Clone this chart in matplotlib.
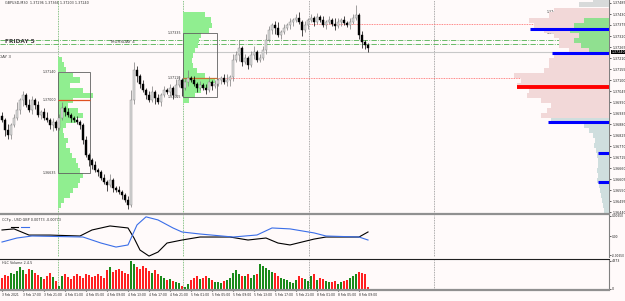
import numpy as np
import matplotlib
matplotlib.use("Agg")
import matplotlib.pyplot as plt
from matplotlib.patches import Rectangle
from matplotlib.lines import Line2D

# GBPUSD M30 candles (close prices), wicks in pips
closes = [
    1.3690, 1.3685, 1.36825, 1.36875, 1.3691, 1.3695,
    1.3700, 1.37025, 1.36975, 1.3695, 1.3700, 1.36975, 1.36925,
    1.3694, 1.3691, 1.3690, 1.36875, 1.3689, 1.3686, 1.3691,
    1.3696, 1.3694, 1.36925, 1.3691, 1.3690, 1.3689, 1.36875, 1.3680, 1.36725, 1.3670,
    1.36675, 1.3665, 1.3664, 1.3661, 1.3659, 1.36575, 1.3660, 1.3656, 1.3655, 1.3654, 1.36525, 1.3650, 1.36475,
    1.3700, 1.3715, 1.3712, 1.3708,
    1.3705, 1.37025, 1.3700, 1.3704, 1.3701, 1.3699, 1.37025, 1.3705, 1.3704, 1.3706,
    1.37025, 1.37075, 1.3710, 1.3706, 1.3709, 1.3711, 1.3710, 1.3708, 1.3706, 1.37075,
    1.3706, 1.3705, 1.3709, 1.3707, 1.3708, 1.3710, 1.3711, 1.3709, 1.3710, 1.37115,
    1.3720, 1.37225, 1.3726, 1.3719, 1.3721, 1.37175, 1.37225, 1.3724, 1.3720, 1.3721,
    1.3725, 1.3730, 1.3735, 1.37375, 1.3736, 1.37325, 1.3734, 1.3736, 1.37375, 1.3739,
    1.3740, 1.3741, 1.3739, 1.3735, 1.37375, 1.3740, 1.3741, 1.3739, 1.37415, 1.3740,
    1.37375, 1.3739, 1.3740, 1.3738, 1.3737, 1.3739, 1.3740, 1.37385, 1.37375, 1.3739,
    1.3741, 1.37425, 1.37325, 1.3729, 1.37275, 1.3726,
]
first_open = 1.3692
wick_up = [2, 1, 3, 1, 2, 4, 1, 2, 1, 3, 2, 1, 2,
           1, 2, 3, 1, 2, 1, 2,
           3, 1, 2, 1, 1, 2, 1, 1, 2, 1,
           1, 2, 1, 1, 2, 1, 3, 1, 1, 2, 1, 1, 2,
           5, 4, 2, 1,
           2, 1, 2, 3, 1, 2, 1, 2, 1, 2,
           1, 3, 2, 1, 2, 4, 1, 2, 1, 2,
           1, 2, 3, 1, 2, 1, 1, 2, 3, 1,
           3, 2, 4, 1, 2, 1, 2, 3, 1, 2,
           2, 3, 2, 1, 2, 3, 1, 2, 1, 2,
           1, 2, 3, 1, 2, 1, 2, 1, 2, 1,
           2, 1, 2, 1, 3, 2, 1, 2, 1, 2,
           2, 5, 1, 2, 1, 1]
wick_dn = [1, 3, 2, 2, 1, 1, 2, 3, 1, 1, 2, 2, 1,
           2, 1, 1, 2, 3, 1, 1,
           1, 2, 1, 2, 1, 1, 2, 2, 1, 3,
           2, 1, 2, 1, 1, 3, 1, 2, 1, 1, 2, 1, 2,
           1, 2, 3, 2,
           1, 2, 1, 1, 3, 1, 2, 1, 1, 2,
           2, 1, 1, 4, 1, 2, 1, 1, 2, 1,
           1, 2, 1, 2, 1, 1, 2, 1, 2, 3,
           2, 1, 3, 2, 1, 2, 1, 2, 1, 1,
           1, 2, 1, 2, 3, 1, 2, 1, 1, 2,
           2, 1, 1, 3, 1, 2, 1, 2, 1, 1,
           1, 2, 1, 1, 2, 1, 2, 1, 1, 2,
           1, 1, 2, 3, 2, 2]
volumes = [11, 14, 13, 16, 15, 18, 22, 19, 15, 20, 19, 16, 14, 12, 10, 13, 16, 12, 8, 3,
           13, 15, 12, 10, 13, 15, 13, 11, 15, 14, 12, 13, 15, 13, 11, 19, 22, 17, 19, 20, 18, 16, 15,
           28, 25, 22, 20, 23, 21, 18, 16, 19, 15, 13, 11, 9, 10,
           8, 7, 6, 3, 2, 5, 9, 11, 13, 10,
           11, 13, 11, 9, 7, 7, 6, 8, 9, 11, 16, 19, 15, 13,
           13, 15, 11, 14, 15, 25, 23, 21, 19, 17, 16, 13, 11, 10, 9, 7,
           6, 9, 13, 11, 10, 8, 13, 15, 9, 11, 10, 8, 7, 7,
           8, 5, 7, 8, 9, 11, 13, 15, 17, 16, 15, 2]

# CCFp currency strength
usd_idx = [0, 4, 9, 16, 26, 30, 36, 42, 44, 46, 49, 52, 55, 60, 66, 76, 82, 88, 92, 96, 104, 108, 119, 122]
usd_vals = [0.00195, 0.0023, 0.0003, 0.0003, 0.0, 0.00195, 0.00325, 0.0026, -0.00065, -0.00455, -0.0065,
            -0.0052, -0.00228, -0.0013, -0.00033, -0.00033, -0.0013, -0.00065, -0.00228, -0.0029,
            -0.001, -0.00033, -0.00033, 0.0013]
gbp_idx = [0, 5, 10, 27, 33, 38, 42, 45, 48, 52, 57, 60, 66, 77, 85, 90, 96, 104, 108, 119, 122]
gbp_vals = [-0.00195, -0.00065, 0.0, -0.00033, -0.00228, -0.00358, -0.0029, 0.00358, 0.0062, 0.0052,
            0.0026, 0.0013, 0.00065, -0.00033, 0.00033, 0.0026, 0.0023, 0.001, 0.0, -0.00033, -0.0013]

day_starts = [18.67, 60.33, 102.33, 144.0]
time_labels = ["3 Feb 2021", "3 Feb 17:00", "3 Feb 21:00", "4 Feb 01:00", "4 Feb 05:00", "4 Feb 09:00",
               "4 Feb 13:00", "4 Feb 17:00", "4 Feb 21:00", "5 Feb 01:00", "5 Feb 05:00", "5 Feb 09:00",
               "5 Feb 13:00", "5 Feb 17:00", "5 Feb 21:00", "8 Feb 01:00", "8 Feb 05:00", "8 Feb 09:00"]

# market profile of the whole chart, levels from 1.3750 downwards
profile_vol = [160, 300, 550, 600, 800, 750, 650, 550, 500, 500,
               400, 550, 600, 600, 650, 950, 880, 920, 800, 820,
               680, 580, 620, 680, 580, 250, 200, 160, 140, 150,
               130, 120, 110, 110, 120, 110, 120, 100, 90, 80,
               70, 60, 50]
profile_green = [250, 350, 390, 300, 350, 280, 200]
hvn_prices = [1.37355, 1.37235, 1.3689, 1.36735, 1.3659]
hvn_vols = [790, 570, 610, 110, 110]
poc_price, poc_vol = 1.37065, 920

# session profiles
sess1_vol = [12, 18, 24, 45, 66, 36, 75, 105, 45, 30, 60, 75, 54, 24, 15,
             18, 30, 24, 36, 42, 54, 60, 66, 75, 66, 60, 45, 36, 18, 9]
sess2_vol = [66, 84, 87, 78, 54, 48, 45, 36, 30, 27, 30, 42, 66, 96, 75, 54, 36, 18]
sess_hi = [1.3714, 1.37335, 1.3744]
sess_lo = [1.36635, 1.37015, 1.37335]
sess_end = [29.33, 71.67, 202.33]
sess_poc = [1.3700, 1.3711, 1.3738]

bg = "#fffafa"
fig = plt.figure(figsize=(6.25, 3.01), dpi=100, facecolor=bg)
W, H = 625, 301
xlo, xhi = -0.667, 202.33
ytop, ybot = 1.3750, 1.36435

ax = fig.add_axes([0, (H - 213) / H, 609 / W, 213 / H], facecolor=bg)
ax_c = fig.add_axes([0, (H - 257) / H, 609 / W, 42 / H], facecolor=bg)
ax_v = fig.add_axes([0, (H - 289) / H, 609 / W, 29 / H], facecolor=bg)

for a in (ax, ax_c, ax_v):
    a.set_xlim(xlo, xhi)
    for s in ("top", "left", "bottom"):
        a.spines[s].set_visible(False)
    a.spines["right"].set_color("#808080")
    a.spines["right"].set_linewidth(0.8)
    a.yaxis.tick_right()
    a.tick_params(axis="y", labelsize=2.3, length=1.5, pad=0.8, colors="#202020", width=0.5)
    a.tick_params(axis="x", length=0, labelbottom=False)
    for k, d in enumerate(day_starts):
        col = "#60b060" if k < 2 else "#909090"
        a.axvline(d, color=col, lw=0.6, ls=(0, (1, 1)), zorder=1)

ax.set_ylim(ybot, ytop)
ticks = np.arange(1.37485, ybot, -0.00055)
ax.set_yticks(ticks)
ax.set_yticklabels(["%.5f" % t for t in ticks])

# profile on the right edge
ax_p = ax.twiny()
ax_p.set_xlim(6090, 0)
ax_p.axis("off")
levels = np.arange(ytop, ytop - 0.00025 * len(profile_vol) + 1e-9, -0.00025)[:len(profile_vol)]
pcols = ["#d8dada" if p > 1.3745 else ("#f2d8d8" if p > 1.3690 else "#cfdede") for p in levels]
ax_p.barh(levels, profile_vol, height=0.00025, left=0, color=pcols, zorder=1)
green_lv = levels[4:4 + len(profile_green)]
ax_p.barh(green_lv, profile_green, height=0.00025, color="#90e090", zorder=2)
ax_p.hlines(hvn_prices, 0, hvn_vols, color="#0000ff", lw=2.2, zorder=3)
ax_p.hlines(poc_price, 0, poc_vol, color="#ff0000", lw=2.8, zorder=3)

# key horizontal levels
ax.axhline(1.37302, color="#50b050", lw=0.6, ls="-.", zorder=1)
ax.axhline(1.37282, color="#50b050", lw=0.6, ls="-.", zorder=1)
ax.axhline(1.3724, color="#c8c8c8", lw=0.8, zorder=1)
ax.hlines(sess_poc[1], sess_end[1], xhi, color="#ff6060", lw=0.6, ls=(0, (1, 1)), zorder=2)
ax.hlines(sess_poc[2], day_starts[2] + 0.3, xhi, color="#ff6060", lw=0.6, ls=(0, (1, 1)), zorder=2)
for p, c in zip([1.3713, 1.37122, 1.37115], ["#80c080", "#ffa040", "#e0d040"]):
    ax.hlines(p, 171.67, xhi, color=c, lw=0.6, ls=(0, (1, 1)), zorder=2)

# session histograms
lv1 = np.arange(1.3720, 1.3720 - 0.00025 * len(sess1_vol) + 1e-9, -0.00025)[:len(sess1_vol)]
lv2 = np.arange(1.37425, 1.37425 - 0.00025 * len(sess2_vol) + 1e-9, -0.00025)[:len(sess2_vol)]
ax.barh(lv1, np.array(sess1_vol) / 9, height=0.00025, left=day_starts[0], color="#90ee90", zorder=2)
ax.barh(lv2, np.array(sess2_vol) / 9, height=0.00025, left=day_starts[1], color="#90ee90", zorder=2)
for k in range(3):
    x0 = day_starts[k] if k < 2 else 186.67
    ax.add_patch(Rectangle((x0, sess_lo[k]), sess_end[k] - x0, sess_hi[k] - sess_lo[k],
                           fill=False, ec="#606060", lw=0.6, zorder=4))
    pc = "#e05020" if k == 0 else "#c87030"
    ax.hlines(sess_poc[k], x0, sess_end[k], color=pc, lw=0.9, zorder=4)
    for p in (sess_hi[k], sess_poc[k], sess_lo[k]):
        ax.text(x0 - 0.6, p, "%.5f" % p, fontsize=2.3, ha="right", va="center", color="#303030", zorder=5)
ax.text(195, 1.3743, "+20.0", fontsize=8, color="#2e9a2e", ha="center", va="center", zorder=6)

# candles
opens = [first_open] + closes[:-1]
for i, (o, c) in enumerate(zip(opens, closes)):
    hi = max(o, c) + wick_up[i] * 0.0001
    lo = min(o, c) - wick_dn[i] * 0.0001
    bull = c >= o
    ax.vlines(i, lo, hi, color="#7a7a7a" if bull else "#000000", lw=0.5, zorder=5)
    h = max(abs(c - o), 0.00003)
    ax.bar(i, h, bottom=min(o, c), width=0.65, color="#dcdcdc" if bull else "#000000",
           edgecolor="#808080" if bull else "#000000", lw=0.3, zorder=6)

# texts
ax.text(1, 1.37485, "GBPUSD,M30  1.37296 1.37366 1.37203 1.37240", fontsize=2.4,
        va="center", ha="left", color="#303030")
ax.text(1, 1.37292, "FRIDAY 5", fontsize=4.2, va="center", ha="left", color="#404040", fontweight="bold")
ax.text(40, 1.37292, "THURSDAY 4", fontsize=3, va="center", ha="center", color="#404040")
ax.text(3, 1.37215, "WEDNESDAY 3", fontsize=3, va="center", ha="right", color="#404040")
ax.text(xhi + 0.8, 1.3724, "1.37240", fontsize=2.3, va="center", ha="left", color="white",
        bbox=dict(boxstyle="square,pad=0.15", fc="black", ec="none"), clip_on=False)

# CCFp panel
ax_c.set_ylim(-0.0068, 0.0068)
ax_c.plot(usd_idx, usd_vals, color="black", lw=0.8)
ax_c.plot(gbp_idx, gbp_vals, color="#3a6ee8", lw=0.8)
ax_c.set_yticks([0.0065, 0, -0.0063])
ax_c.set_yticklabels(["0.00650", "0.00", "-0.00650"])
ax_c.tick_params(axis="y", labelsize=2.1)
ax_c.text(0.003, 0.93, "CCFp - USD GBP 0.00773 -0.00773", transform=ax_c.transAxes,
          fontsize=2.4, va="top", color="#303030")
ax_c.plot([0.018, 0.03], [0.72, 0.72], transform=ax_c.transAxes, color="black", lw=0.8)
ax_c.plot([0.035, 0.047], [0.72, 0.72], transform=ax_c.transAxes, color="#3a6ee8", lw=0.8)

# volume panel
ax_v.set_ylim(0, 28.5)
vcols = ["#1a8a1a" if c >= o else "#ff2020" for o, c in zip(opens, closes)]
ax_v.bar(range(len(volumes)), volumes, width=0.78, color=vcols, zorder=3)
ax_v.set_yticks([0, 28])
ax_v.set_yticklabels(["0", "4873"])
ax_v.text(0.003, 0.95, "HLC Volume 2.4.5", transform=ax_v.transAxes, fontsize=2.4, va="top", color="#303030")
ax_v.set_xticks(np.arange(0, 7 * len(time_labels), 7))
ax_v.set_xticklabels(time_labels)
ax_v.tick_params(axis="x", labelbottom=True, labelsize=2.2, length=1.5, pad=1.5, colors="#202020")
for lbl in ax_v.get_xticklabels():
    lbl.set_ha("left")

# panel separators
for y, c, lw in [(213.5, "#909090", 1.6), (258.5, "#202020", 0.8), (289.5, "#909090", 1.6)]:
    fig.add_artist(Line2D([0, 609 / W], [1 - y / H, 1 - y / H], color=c, lw=lw))

fig.savefig("out.png", dpi=100, facecolor=bg)
